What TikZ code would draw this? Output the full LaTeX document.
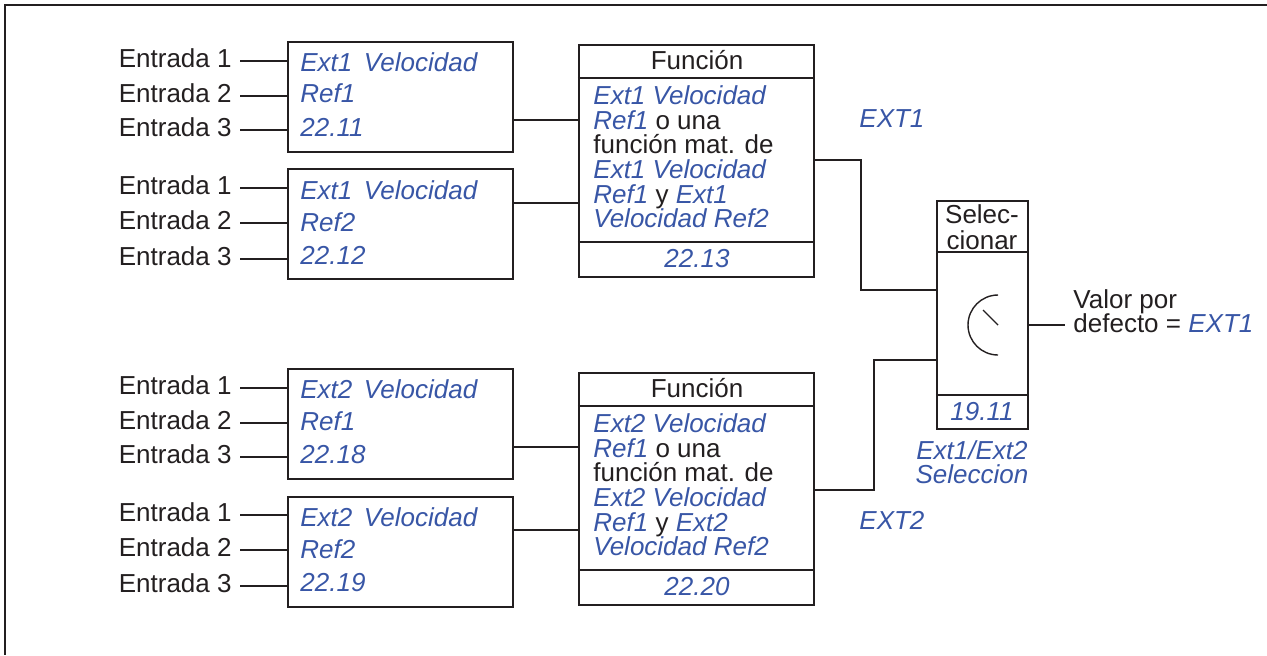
\documentclass[tikz,border=0pt]{standalone}
\usepackage{fontspec}
\setmainfont{Liberation Sans}
\definecolor{refblue}{RGB}{56,86,166}
\definecolor{ink}{RGB}{35,31,32}
\newcommand\bt[1]{{\color{refblue}\itshape #1}}
\begin{document}
\begin{tikzpicture}[x=0.5pt,y=-0.5pt,
  every node/.style={font=\fontsize{13}{14}\selectfont, inner sep=0pt, text=ink},
  lbl/.style={anchor=east, inner xsep=4pt, text height=6pt, text depth=0pt},
  txt/.style={anchor=base west},
  ctr/.style={anchor=base},
  wire/.style={draw=ink, line width=1.1pt},
  inbox/.style={draw=ink, line width=1.1pt, minimum width=112.5pt, minimum height=55pt},
  fnbox/.style={draw=ink, line width=1.1pt, minimum width=117.5pt, minimum height=116pt},
  selbox/.style={draw=ink, line width=1.1pt, minimum width=45.5pt, minimum height=114pt}]
\useasboundingbox (0,0) rectangle (1267,655);
% frame
\draw[ink, line width=1.4pt] (4,5) -- (1267,5);
\draw[ink, line width=0.9pt] (5,5) -- (5,655);

% input boxes
\node[inbox] (b1) at (400.5,97) {};
\node[inbox] (b2) at (400.5,224) {};
\node[inbox] (b3) at (400.5,424) {};
\node[inbox] (b4) at (400.5,552) {};

% input labels and wires
\foreach \n/\y/\b in {11/61/b1,12/96/b1,13/130/b1,21/188/b2,22/223/b2,23/259/b2,
                      31/388/b3,32/423/b3,33/457/b3,41/515/b4,42/550/b4,43/586/b4}{
  \pgfmathtruncatemacro{\k}{mod(\n,10)}
  \node[lbl] (e\n) at (240,\y) {Entrada \k};
  \draw[wire] (e\n.east) -- (e\n.east -| \b.west);
}

% box texts
\node[txt] at (300,71) {\bt{Ext1 \,Velocidad}};
\node[txt] at (300,102) {\bt{Ref1}};
\node[txt] at (300,136) {\bt{22.11}};
\node[txt] at (300,199) {\bt{Ext1 \,Velocidad}};
\node[txt] at (300,231) {\bt{Ref2}};
\node[txt] at (300,264) {\bt{22.12}};
\node[txt] at (300,398) {\bt{Ext2 \,Velocidad}};
\node[txt] at (300,430) {\bt{Ref1}};
\node[txt] at (300,463) {\bt{22.18}};
\node[txt] at (300,526) {\bt{Ext2 \,Velocidad}};
\node[txt] at (300,558) {\bt{Ref2}};
\node[txt] at (300,591) {\bt{22.19}};

% function boxes
\node[fnbox] (f1) at (696.5,161) {};
\draw[wire] (f1.west |- 0,78) -- (f1.east |- 0,78);
\draw[wire] (f1.west |- 0,242) -- (f1.east |- 0,242);
\node[ctr] at (697,69) {Función};
\node[txt] at (593,104) {\bt{Ext1 Velocidad}};
\node[txt] at (593,129) {\bt{Ref1} o una};
\node[txt] at (593,153) {función mat. de};
\node[txt] at (593,178) {\bt{Ext1 Velocidad}};
\node[txt] at (593,203) {\bt{Ref1} y \bt{Ext1}};
\node[txt] at (593,227) {\bt{Velocidad Ref2}};
\node[ctr] at (697,267) {\bt{22.13}};

\node[fnbox] (f2) at (696.5,489) {};
\draw[wire] (f2.west |- 0,406) -- (f2.east |- 0,406);
\draw[wire] (f2.west |- 0,570) -- (f2.east |- 0,570);
\node[ctr] at (697,397) {Función};
\node[txt] at (593,432) {\bt{Ext2 Velocidad}};
\node[txt] at (593,457) {\bt{Ref1} o una};
\node[txt] at (593,481) {función mat. de};
\node[txt] at (593,506) {\bt{Ext2 Velocidad}};
\node[txt] at (593,531) {\bt{Ref1} y \bt{Ext2}};
\node[txt] at (593,555) {\bt{Velocidad Ref2}};
\node[ctr] at (697,595) {\bt{22.20}};

% box -> function wires
\draw[wire] (b1.east |- 0,120) -- (f1.west |- 0,120);
\draw[wire] (b2.east |- 0,203) -- (f1.west |- 0,203);
\draw[wire] (b3.east |- 0,447) -- (f2.west |- 0,447);
\draw[wire] (b4.east |- 0,530) -- (f2.west |- 0,530);

% selector
\node[selbox] (sel) at (982.5,315) {};
\draw[wire] (sel.west |- 0,252) -- (sel.east |- 0,252);
\draw[wire] (sel.west |- 0,395) -- (sel.east |- 0,395);
\node[ctr] at (982,223) {Selec-};
\node[ctr] at (982,249) {cionar};
\node[ctr] at (982,420) {\bt{19.11}};
\coordinate (dc) at (998,325);
\draw[ink, line width=0.7pt] (dc) ++(0,-30) arc[start angle=-90, end angle=-270, radius=30];
\draw[ink, line width=0.7pt] (dc) -- ++(-15,-15);

% function -> selector wires
\coordinate (k1) at (861,160);
\coordinate (k2) at (874,490);
\draw[wire] (f1.east |- k1) -- (k1) |- (sel.west |- 0,290);
\draw[wire] (f2.east |- k2) -- (k2) |- (sel.west |- 0,360);

% labels
\node[txt] at (859,127) {\bt{EXT1}};
\node[txt] at (859,529) {\bt{EXT2}};
\node[ctr] at (972,459) {\bt{Ext1/Ext2}};
\node[ctr] at (972,483) {\bt{Seleccion}};

% output
\node[txt] (v1) at (1073,308) {Valor por};
\node[txt] (v2) at (1073,332) {defecto = \bt{EXT1}};
\coordinate (vo) at (1065,325);
\draw[wire] (sel.east |- vo) -- (vo);
\end{tikzpicture}
\end{document}
